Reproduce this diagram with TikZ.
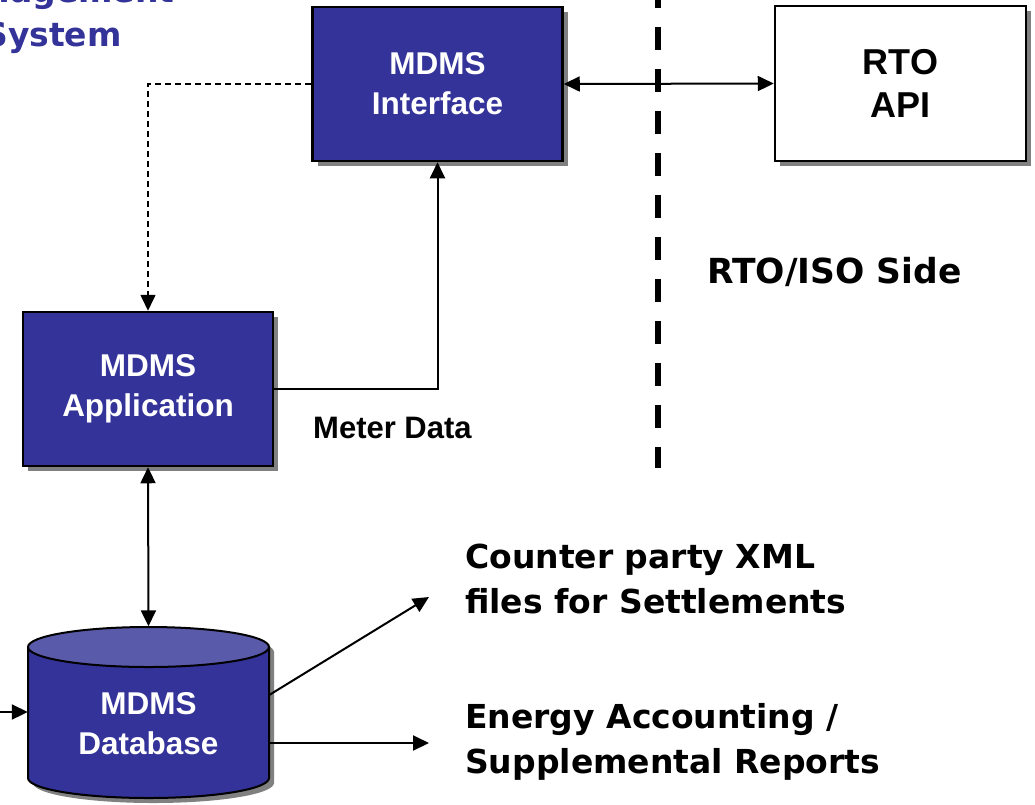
\documentclass[tikz,border=0pt]{standalone}
\usepackage{fontspec}
\setmainfont{Liberation Sans}
\newfontfamily\wideface{DejaVu Sans}
\usetikzlibrary{arrows.meta,shadows}
\definecolor{mdblue}{RGB}{51,51,153}
\definecolor{mdtop}{RGB}{90,90,170}
\tikzset{
  shade box/.style={drop shadow={shadow xshift=5pt,shadow yshift=-5pt,fill=black!50,opacity=1}},
  boxtext/.style={text=white, align=center, font=\bfseries\fontsize{31.5pt}{40pt}\selectfont},
  mdbox/.style={boxtext, draw=black, line width=2.5pt, fill=mdblue, shade box,
    minimum width=250pt, minimum height=154pt},
  apibox/.style={mdbox, fill=white, text=black, font=\bfseries\fontsize{36pt}{43pt}\selectfont},
  link/.style={line width=2pt, -{Triangle[length=16pt,width=15pt]}},
  twolink/.style={link, {Triangle[length=16pt,width=15pt]}-{Triangle[length=16pt,width=15pt]}},
  note/.style={anchor=base west, align=left, inner sep=0pt,
    font=\wideface\bfseries\fontsize{33pt}{45pt}\selectfont},
  titletext/.style={note, anchor=base, text=mdblue}
}
\begin{document}
\begin{tikzpicture}[x=1pt,y=-1pt]
  \useasboundingbox (0,0) rectangle (1035,804);
  \node[titletext] (titletop) at (53,2) {Management};
  \node[titletext] (titlebot) at (53,46) {System};
  \node[mdbox] (iface) at (437.5,84) {MDMS\\Interface};
  \node[apibox, minimum width=251pt, minimum height=155pt] (api) at (900.5,83.5) {RTO\\API};
  \node[mdbox] (app) at (148,389) {MDMS\\Application};
  % database
  \fill[black!50] (33,652) -- (33,783) arc[start angle=180,end angle=360,x radius=120.5pt,y radius=20pt]
    -- (274,652) arc[start angle=0,end angle=180,x radius=120.5pt,y radius=20pt] -- cycle;
  \filldraw[fill=mdblue, line width=2pt] (28,647) -- (28,778)
    arc[start angle=180,end angle=360,x radius=120.5pt,y radius=20pt] -- (269,647) -- cycle;
  \filldraw[fill=mdtop, line width=2pt] (148.5,647) ellipse[x radius=120.5pt,y radius=20pt];
  \node[minimum width=241pt, minimum height=171pt, inner sep=0pt] (db) at (148.5,712) {};
  \node[boxtext] (dbtext) at (148.5,724) {MDMS\\Database};
  \node[note, font=\bfseries\fontsize{31pt}{38pt}\selectfont] (meter) at (313,438) {Meter Data};
  \node[note, font=\wideface\bfseries\fontsize{34.5pt}{40pt}\selectfont] (side) at (707,283) {RTO/ISO Side};
  \node[note] (settle) at (465,613) {Counter party XML\\files for Settlements};
  \node[note] (report) at (465,773) {Energy Accounting /\\Supplemental Reports};
  \coordinate (divtop) at (658,0);
  \coordinate (divbot) at (658,468);
  \coordinate (feed) at (-2,712);
  \coordinate (settletip) at (429,597);
  \coordinate (reporttip) at (429,743);
  \draw[line width=6pt, dash pattern=on 23pt off 19pt, dash phase=15pt] (divtop) -- (divbot);
  \draw[link, line width=1.6pt, dash pattern=on 6pt off 4pt] (iface.west) -| (app.north);
  \draw[twolink] (iface.east) -- (api.west);
  \draw[link] (app.east) -| (iface.south);
  \draw[twolink] (app.south) -- (db.north);
  \draw[link] (feed) -- (db.west);
  \draw[link] ([yshift=17pt]db.east) -- (settletip);
  \draw[link] ([yshift=-31pt]db.east) -- (reporttip);
\end{tikzpicture}
\end{document}
